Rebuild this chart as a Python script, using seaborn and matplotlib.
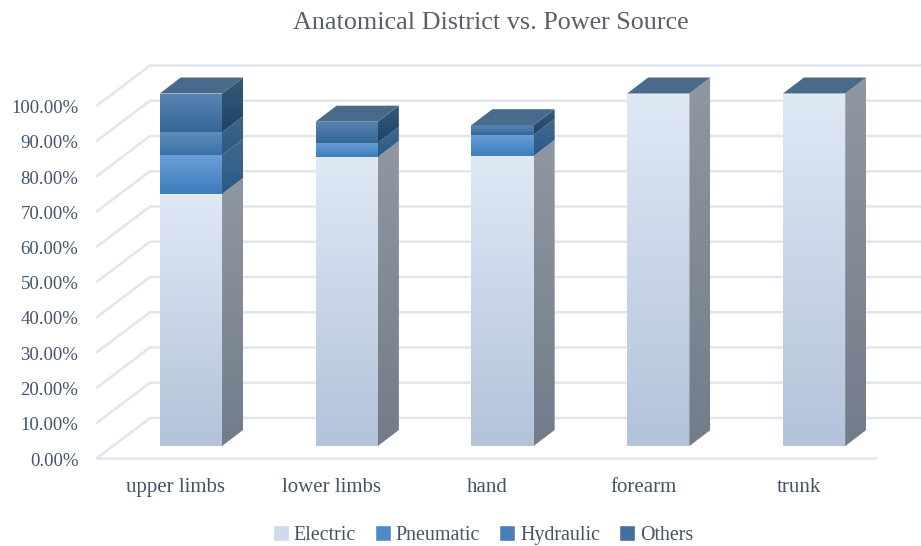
import matplotlib
matplotlib.use("Agg")
import matplotlib.pyplot as plt
import matplotlib.transforms as mtrans
import numpy as np
import seaborn as sns
from matplotlib.colors import to_rgb
from matplotlib.patches import Polygon

categories = ["upper limbs", "lower limbs", "hand", "forearm", "trunk"]
electric = [71.5, 82.0, 82.3, 100.0, 100.0]
pneumatic = [11.0, 4.0, 6.0, 0.0, 0.0]
hydraulic = [6.5, 0.0, 0.0, 0.0, 0.0]
others = [11.0, 6.0, 2.7, 0.0, 0.0]
series_names = ["Electric", "Pneumatic", "Hydraulic", "Others"]
y_ticks = [0, 10, 20, 30, 40, 50, 60, 70, 80, 90, 100]
y_labels = ["{:.2f}%".format(v) for v in y_ticks]

legend_colors = ["#cddaeb", "#4f8ac6", "#4a7fb5", "#41719f"]
front_colors = [("#dfe8f5", "#b3c3da"), ("#6a9fd6", "#3c7dbc"),
                ("#5f8cba", "#3a72a8"), ("#5a85b4", "#346797")]
side_colors = [("#9097a2", "#727c8a"), ("#41698f", "#2a5a86"),
               ("#3e6488", "#2c5a84"), ("#365a7c", "#1f4367")]
top_color = "#4a6a8b"
grid_color = "#e2e4ee"
text_color = "#44546a"

W, H = 921, 546
sns.set_theme(style="white")
plt.rcParams["font.family"] = ["Liberation Serif", "DejaVu Serif"]

fig = plt.figure(figsize=(W / 100, H / 100), dpi=100)
# the axes is the plane of the bar fronts, everything else is shifted off it
ax = fig.add_axes([113 / W, 100 / H, 779 / W, 387.75 / H])
xlim = (-0.5, 4.5)
ylim = (0, 110)
x_per_px = 5 / 779
y_per_px = 100 / 352.5
bar_dx, bar_dy = 21 * x_per_px, 16 * y_per_px
front_dx, front_dy = -16 * x_per_px, -12 * y_per_px
back_dx, back_dy = 37 * x_per_px, 28 * y_per_px


def gradient(top, bottom):
    return np.linspace(to_rgb(top), to_rgb(bottom), 64).reshape(64, 1, 3)


# walls and floor
for v in y_ticks:
    xs = [xlim[0] + front_dx, xlim[0] + back_dx, xlim[1] + back_dx]
    ys = [v + front_dy, v + back_dy, v + back_dy]
    ax.plot(xs, ys, color=grid_color, lw=1.8, zorder=0, clip_on=False)
ax.plot([xlim[0] + front_dx, xlim[1] + front_dx], [front_dy, front_dy],
        color=grid_color, lw=1.8, zorder=0, clip_on=False)

# stacked fronts
bottoms = np.zeros(len(categories))
for name, vals, col in zip(series_names, [electric, pneumatic, hydraulic, others], legend_colors):
    sns.barplot(x=categories, y=vals, bottom=bottoms, color=col, saturation=1,
                width=0.4, label=name, ax=ax, zorder=2, legend=False)
    bottoms = bottoms + np.array(vals)

# gradients and the 3d faces for every segment
for container, fc, sc in zip(ax.containers, front_colors, side_colors):
    for bar in container:
        x0, x1 = bar.get_x(), bar.get_x() + bar.get_width()
        b, t = bar.get_y(), bar.get_y() + bar.get_height()
        if bar.get_height() <= 0:
            continue
        im = ax.imshow(gradient(*fc), extent=(x0, x1, b, t), aspect="auto",
                       interpolation="bilinear", zorder=3)
        im.set_clip_path(bar)
        side = Polygon([(x1, b), (x1 + bar_dx, b + bar_dy), (x1 + bar_dx, t + bar_dy), (x1, t)],
                       closed=True, facecolor="none", edgecolor="none", zorder=3)
        ax.add_patch(side)
        im2 = ax.imshow(gradient(*sc), extent=(x1, x1 + bar_dx, b, t + bar_dy), aspect="auto",
                        interpolation="bilinear", zorder=3)
        im2.set_clip_path(side)

for i, total in enumerate(bottoms):
    x0, x1 = i - 0.2, i + 0.2
    ax.add_patch(Polygon([(x0, total), (x1, total), (x1 + bar_dx, total + bar_dy), (x0 + bar_dx, total + bar_dy)],
                         closed=True, facecolor=top_color, edgecolor="none", zorder=4))

ax.set_xlim(*xlim)
ax.set_ylim(*ylim)
ax.patch.set_visible(False)
sns.despine(ax=ax, left=True, bottom=True)
ax.grid(False)
ax.set_yticks(y_ticks)
ax.set_yticklabels(y_labels)
ax.tick_params(axis="y", length=0, pad=25, labelsize=13.5, labelcolor=text_color)
ax.tick_params(axis="x", length=0, pad=23, labelsize=15, labelcolor=text_color)

# tick labels belong to the front edge of the floor
y_shift = mtrans.ScaledTranslation(0, -13 / 100, fig.dpi_scale_trans)
x_shift = mtrans.ScaledTranslation(-15 / 100, 0, fig.dpi_scale_trans)
for lab in ax.get_yticklabels():
    lab.set_transform(lab.get_transform() + y_shift)
for lab in ax.get_xticklabels():
    lab.set_transform(lab.get_transform() + x_shift)

fig.text(490.5 / W, 1 - 23 / H, "Anatomical District vs. Power Source", ha="center", va="center",
         fontsize=18.8, color="#595f69")

handles, labels = ax.get_legend_handles_labels()
leg = fig.legend(handles, labels, loc="center", bbox_to_anchor=(483 / W, 1 - 535 / H), ncol=4,
                 frameon=False, fontsize=14.4, handlelength=0.8, handleheight=0.8,
                 handletextpad=0.25, columnspacing=0.95, labelcolor=text_color,
                 borderpad=0)

plt.savefig("out.png", dpi=100)
